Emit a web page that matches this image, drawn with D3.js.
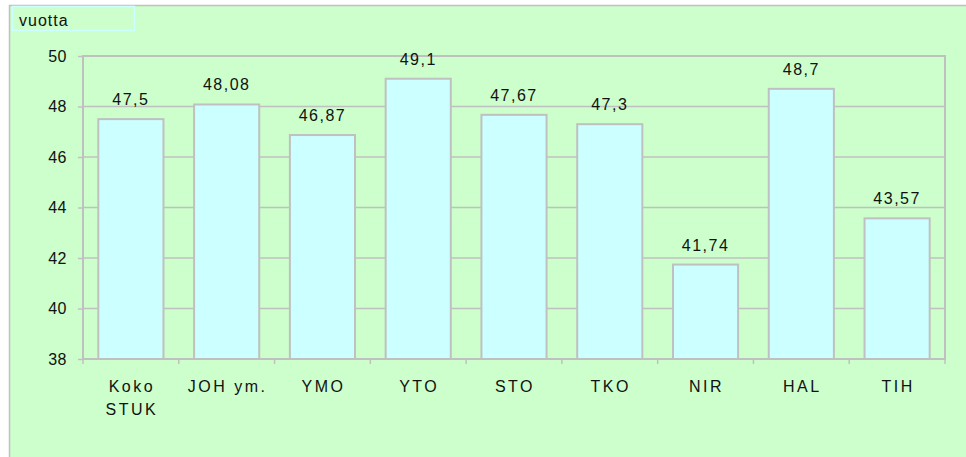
<!DOCTYPE html>
<html>
<head>
<meta charset="utf-8">
<script src="https://cdn.jsdelivr.net/npm/d3@7"></script>
<style>
  body { margin: 0; background: #fff; }
  text { font-family: Arial, "Liberation Sans", sans-serif; fill: #111; }
</style>
</head>
<body>
<svg id="chart" width="966" height="457"></svg>
<script>
//Chart data.
var categories = ["Koko STUK", "JOH ym.", "YMO", "YTO", "STO", "TKO", "NIR", "HAL", "TIH"];
var values = [47.5, 48.08, 46.87, 49.1, 47.67, 47.3, 41.74, 48.7, 43.57];
var valueLabels = ["47,5", "48,08", "46,87", "49,1", "47,67", "47,3", "41,74", "48,7", "43,57"];
var yTicks = [38, 40, 42, 44, 46, 48, 50];
var unitLabel = "vuotta";

(function () {
    var svg = d3.select("#chart");

    //Plot area edges.
    var left = 83, right = 945, top = 56, bottom = 359;

    //Chart background, its right and bottom edges run off the picture.
    svg.append("rect")
        .attr("x", 9.5).attr("y", 5.5)
        .attr("width", 970).attr("height", 460)
        .attr("fill", "#ccffcc")
        .attr("stroke", "#c0c0c0")
        .attr("stroke-width", 1.5);

    //Unit label box.
    svg.append("rect")
        .attr("x", 12.5).attr("y", 6.5)
        .attr("width", 122).attr("height", 24)
        .attr("fill", "#ccffcc")
        .attr("stroke", "#ccffff")
        .attr("stroke-width", 1.5);

    svg.append("text")
        .attr("x", 19).attr("y", 26)
        .style("font-size", "16px")
        .style("letter-spacing", "1px")
        .text(unitLabel);

    var x = d3.scaleBand()
        .domain(categories)
        .range([left, right])
        .paddingInner(0.32)
        .paddingOuter(0.16);

    var y = d3.scaleLinear()
        .domain([38, 50])
        .range([bottom, top]);

    //Gridlines.
    svg.selectAll(".grid")
        .data(yTicks)
        .enter()
        .append("line")
        .attr("x1", left).attr("x2", right)
        .attr("y1", function (d) { return y(d); })
        .attr("y2", function (d) { return y(d); })
        .attr("stroke", "#c0c0c0")
        .attr("stroke-width", 1.5);

    //Plot area frame.
    svg.append("rect")
        .attr("x", left).attr("y", top)
        .attr("width", right - left).attr("height", bottom - top)
        .attr("fill", "none")
        .attr("stroke", "#c0c0c0")
        .attr("stroke-width", 2);

    //Bars.
    svg.selectAll(".bar")
        .data(values)
        .enter()
        .append("rect")
        .attr("class", "bar")
        .attr("x", function (d, i) { return x(categories[i]); })
        .attr("y", function (d) { return y(d); })
        .attr("width", x.bandwidth())
        .attr("height", function (d) { return bottom - y(d); })
        .attr("fill", "#ccffff")
        .attr("stroke", "#c0c0c0")
        .attr("stroke-width", 2);

    //Value labels above bars.
    svg.selectAll(".val")
        .data(values)
        .enter()
        .append("text")
        .attr("x", function (d, i) { return x(categories[i]) + x.bandwidth() / 2; })
        .attr("y", function (d) { return y(d) - 14; })
        .attr("text-anchor", "middle")
        .style("font-size", "16px")
        .style("letter-spacing", "1.5px")
        .text(function (d, i) { return valueLabels[i]; });

    //Y axis.
    var yAxis = d3.axisLeft(y).tickValues(yTicks).tickSize(5).tickPadding(11);
    var gy = svg.append("g")
        .attr("transform", "translate(" + left + ",0)")
        .call(yAxis);
    gy.select(".domain").remove();
    gy.selectAll("line").attr("stroke", "#c0c0c0").attr("stroke-width", 1.5);
    gy.selectAll("text")
        .style("font-size", "16px")
        .style("letter-spacing", "0.5px")
        .style("font-family", "Arial, 'Liberation Sans', sans-serif")
        .attr("fill", "#111");

    //X axis tick marks at band boundaries.
    var step = x.step();
    var bounds = d3.range(categories.length + 1).map(function (i) { return left + i * step; });
    svg.selectAll(".xtick")
        .data(bounds)
        .enter()
        .append("line")
        .attr("x1", function (d) { return d; }).attr("x2", function (d) { return d; })
        .attr("y1", bottom).attr("y2", bottom + 5)
        .attr("stroke", "#c0c0c0")
        .attr("stroke-width", 1.5);

    //Category labels, the first one split over two lines.
    svg.selectAll(".cat")
        .data(categories)
        .enter()
        .append("text")
        .attr("text-anchor", "middle")
        .style("font-size", "16px")
        .style("letter-spacing", "2.5px")
        .each(function (d) {
            var t = d3.select(this);
            var lines = d === "Koko STUK" ? ["Koko", "STUK"] : [d];
            lines.forEach(function (line, k) {
                t.append("tspan")
                    .attr("x", x(d) + x.bandwidth() / 2 + 1)
                    .attr("y", 392 + k * 23)
                    .text(line);
            });
        });
})();
</script>
</body>
</html>
